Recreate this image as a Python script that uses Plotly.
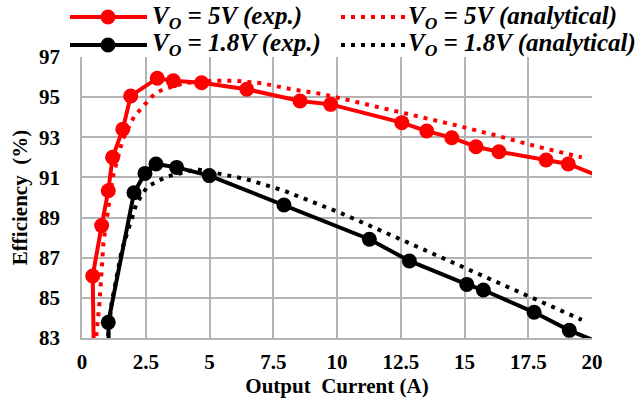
import plotly.graph_objects as go

# ---- data ----
red_exp_x = [0.50, 0.42, 0.77, 1.03, 1.20, 1.60, 1.91, 2.95, 3.58, 4.69, 6.46, 8.55, 9.75, 12.54, 13.52, 14.50, 15.45, 16.35, 18.20, 19.07, 20.40]
red_exp_y = [79.0, 86.09, 88.60, 90.34, 92.00, 93.40, 95.06, 95.94, 95.82, 95.72, 95.39, 94.81, 94.64, 93.73, 93.31, 92.98, 92.53, 92.28, 91.87, 91.67, 91.00]
red_ana_x = [0.52, 0.68, 0.84, 1.20, 1.60, 2.04, 2.56, 2.86, 3.19, 4.00, 5.15, 6.00, 7.05, 8.22, 9.40, 10.58, 11.75, 12.93, 14.80, 16.33, 17.87, 19.60]
red_ana_y = [82.6, 84.64, 87.75, 91.00, 92.90, 94.03, 94.77, 95.19, 95.39, 95.70, 95.82, 95.82, 95.69, 95.39, 95.16, 94.82, 94.49, 94.10, 93.56, 93.06, 92.53, 92.00]
blk_exp_x = [1.10, 1.03, 2.04, 2.47, 2.90, 3.71, 4.99, 7.92, 11.27, 12.84, 15.09, 15.74, 17.73, 19.11, 20.40]
blk_exp_y = [80.0, 83.78, 90.24, 91.20, 91.67, 91.50, 91.09, 89.63, 87.92, 86.84, 85.67, 85.39, 84.28, 83.38, 82.70]
blk_ana_x = [0.98, 1.16, 1.56, 2.14, 2.56, 3.32, 4.50, 6.46, 7.92, 10.12, 12.31, 14.50, 16.65, 18.81, 19.60]
blk_ana_y = [82.6, 84.73, 87.38, 89.71, 90.54, 91.04, 91.41, 90.91, 90.34, 89.24, 88.02, 86.80, 85.56, 84.35, 83.90]

x_ticks = [0, 2.5, 5, 7.5, 10, 12.5, 15, 17.5, 20]
x_tick_labels = ["0", "2.5", "5", "7.5", "10", "12.5", "15", "17.5", "20"]
y_ticks = [83, 85, 87, 89, 91, 93, 95, 97]
y_tick_labels = ["83", "85", "87", "89", "91", "93", "95", "97"]

legend_labels = ["V<sub>O</sub> = 5V (exp.)", "V<sub>O</sub> = 5V (analytical)",
                 "V<sub>O</sub> = 1.8V (exp.)", "V<sub>O</sub> = 1.8V (analytical)"]

RED = "#ff0000"
BLK = "#000000"
FONT = "Liberation Serif"

fig = go.Figure()

def exp_trace(x, y, color):
    sizes = [15] * len(x)
    sizes[0] = 0
    sizes[-1] = 0
    return go.Scatter(x=x, y=y, mode="lines+markers",
                      line=dict(color=color, width=4),
                      marker=dict(color=color, size=sizes, opacity=1, line=dict(width=0)),
                      showlegend=False, cliponaxis=True)

def ana_trace(x, y, color):
    return go.Scatter(x=x, y=y, mode="lines",
                      line=dict(color=color, width=4, dash="4px,6px"),
                      showlegend=False)

fig.add_trace(ana_trace(red_ana_x, red_ana_y, RED))
fig.add_trace(ana_trace(blk_ana_x, blk_ana_y, BLK))
fig.add_trace(exp_trace(red_exp_x, red_exp_y, RED))
fig.add_trace(exp_trace(blk_exp_x, blk_exp_y, BLK))

L, R, T, B = 82, 50, 57, 65
W, H = 642, 403
pw, ph = W - L - R, H - T - B

def px2x(px):
    return (px - L) / pw

def py2y(py):
    return (H - B - py) / ph

shapes = []
annotations = []
legend_rows = [
    (17, RED, legend_labels[0], legend_labels[1]),
    (45, BLK, legend_labels[2], legend_labels[3]),
]
for py, col, lab_exp, lab_ana in legend_rows:
    yy = py2y(py)
    shapes.append(dict(type="line", xref="paper", yref="paper",
                       x0=px2x(70), x1=px2x(147), y0=yy, y1=yy,
                       line=dict(color=col, width=4)))
    shapes.append(dict(type="circle", xref="paper", yref="paper",
                       xsizemode="pixel", ysizemode="pixel",
                       xanchor=px2x(108), yanchor=yy,
                       x0=-7.5, x1=7.5, y0=-7.5, y1=7.5,
                       fillcolor=col, line=dict(color=col, width=0)))
    shapes.append(dict(type="line", xref="paper", yref="paper",
                       x0=px2x(341), x1=px2x(405), y0=yy, y1=yy,
                       line=dict(color=col, width=4, dash="4px,6px")))
    annotations.append(dict(xref="paper", yref="paper", x=px2x(150), y=yy,
                            text="<b><i>" + lab_exp + "</i></b>", showarrow=False,
                            xanchor="left", yanchor="middle",
                            font=dict(family=FONT, size=25, color="black")))
    annotations.append(dict(xref="paper", yref="paper", x=px2x(406), y=yy,
                            text="<b><i>" + lab_ana + "</i></b>", showarrow=False,
                            xanchor="left", yanchor="middle",
                            font=dict(family=FONT, size=25, color="black")))

fig.update_layout(
    width=W, height=H,
    margin=dict(l=L, r=R, t=T, b=B, pad=0),
    paper_bgcolor="white", plot_bgcolor="white",
    font=dict(family=FONT, color="black"),
    shapes=shapes, annotations=annotations,
    showlegend=False,
)
fig.update_xaxes(range=[0, 20], tickvals=x_ticks, automargin=False,
                 ticktext=["<b>" + t + "</b>" for t in x_tick_labels],
                 showgrid=True, gridcolor="#b3b3b3", gridwidth=1.5,
                 showline=True, linecolor="#b3b3b3", linewidth=1.5,
                 mirror=False, zeroline=False, ticks="", ticklabelstandoff=4,
                 tickfont=dict(family=FONT, size=21, color="black"),
                 title=dict(text="<b>Output  Current (A)</b>", standoff=4,
                            font=dict(family=FONT, size=21, color="black")))
fig.update_yaxes(range=[83, 97], tickvals=y_ticks, automargin=False,
                 ticktext=["<b>" + t + "</b>" for t in y_tick_labels],
                 showgrid=True, gridcolor="#b3b3b3", gridwidth=1.5,
                 showline=True, linecolor="#b3b3b3", linewidth=1.5,
                 zeroline=False, ticks="", ticklabelstandoff=16,
                 tickfont=dict(family=FONT, size=21, color="black"),
                 title=dict(text="<b>Efficiency  (%)</b>", standoff=6,
                            font=dict(family=FONT, size=21, color="black")))

fig.write_html("out.html")
